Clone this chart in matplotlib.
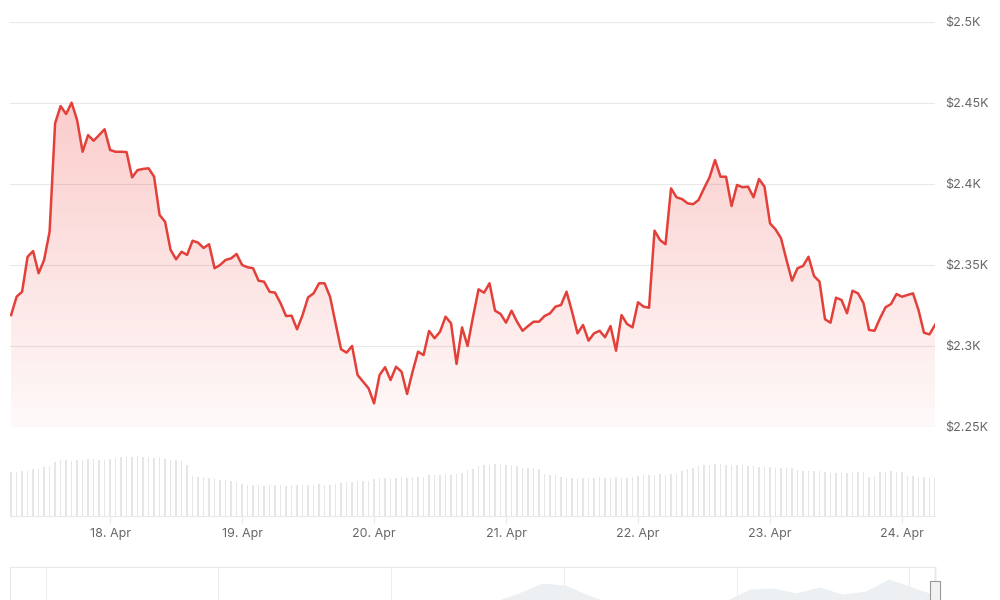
import matplotlib
matplotlib.use("Agg")
import matplotlib.pyplot as plt
import matplotlib.dates as mdates
from matplotlib.ticker import FuncFormatter
import numpy as np
import pandas as pd

plt.rcParams['font.family'] = ['Inter', 'DejaVu Sans']

# hourly prices (USD), 17 Apr 06:00 -> 24 Apr 06:00
price = [
    2319.1, 2330.4, 2333.5, 2355.1, 2358.6, 2344.9, 2353.1, 2370.6, 2437.5, 2448.1, 2443.2, 2450.2,
    2439.5, 2419.9, 2430.2, 2426.7, 2430.2, 2433.8, 2421.0, 2419.9, 2419.9, 2419.7, 2404.1, 2408.6,
    2409.3, 2409.7, 2404.5, 2380.9, 2376.7, 2359.3, 2353.5, 2358.2, 2356.2, 2365.0, 2363.8, 2360.5,
    2362.8, 2348.0, 2350.0, 2353.1, 2354.1, 2356.8, 2350.0, 2348.6, 2348.0, 2340.3, 2339.7, 2333.5,
    2332.9, 2326.4, 2318.5, 2318.7, 2310.3, 2319.1, 2330.0, 2332.5, 2338.7, 2338.7, 2330.4, 2314.0,
    2298.0, 2295.9, 2300.0, 2282.1, 2278.0, 2273.9, 2264.6, 2282.1, 2286.9, 2279.0, 2287.2, 2284.1,
    2270.4, 2284.1, 2296.5, 2294.4, 2309.3, 2304.8, 2308.8, 2318.1, 2314.0, 2288.9, 2311.5, 2300.0,
    2318.1, 2335.0, 2332.9, 2338.7, 2321.8, 2319.8, 2314.4, 2321.8, 2315.0, 2309.4, 2312.3, 2315.0,
    2315.0, 2318.5, 2320.2, 2324.3, 2325.3, 2333.5, 2321.2, 2307.8, 2313.0, 2303.3, 2307.8, 2309.4,
    2305.4, 2312.3, 2297.1, 2319.1, 2313.6, 2311.5, 2327.0, 2324.3, 2323.6, 2371.2, 2365.4, 2362.8,
    2397.3, 2391.8, 2390.7, 2388.1, 2387.5, 2390.1, 2397.3, 2404.1, 2414.8, 2404.5, 2404.5, 2386.4,
    2399.4, 2398.0, 2398.4, 2391.8, 2403.1, 2398.3, 2375.7, 2372.0, 2366.5, 2353.1, 2340.3, 2348.0,
    2349.4, 2355.1, 2343.2, 2339.7, 2316.5, 2314.4, 2329.8, 2328.4, 2320.2, 2334.1, 2332.5, 2326.4,
    2309.9, 2309.4, 2317.1, 2323.9, 2325.9, 2332.1, 2330.4, 2331.5, 2332.5, 2322.2, 2308.2, 2307.2, 2313.0,
]

# hourly volume (relative units)
volume = [
    44, 44, 45, 45, 47, 47, 49, 50, 54, 56, 56, 55,
    56, 56, 57, 57, 56, 56, 57, 58, 59, 59, 59, 60,
    59, 59, 58, 59, 57, 56, 56, 55, 51, 40, 39, 39,
    38, 38, 36, 36, 35, 34, 32, 31, 31, 31, 30, 31,
    31, 31, 30, 31, 31, 31, 31, 31, 32, 31, 31, 32,
    33, 34, 34, 35, 35, 35, 37, 38, 38, 38, 38, 39,
    38, 39, 39, 39, 41, 41, 41, 42, 41, 42, 43, 46,
    47, 50, 51, 51, 52, 52, 51, 51, 50, 48, 48, 48,
    47, 42, 41, 41, 39, 38, 38, 38, 38, 38, 38, 39,
    38, 38, 39, 38, 38, 39, 40, 41, 41, 41, 42, 41,
    42, 42, 45, 47, 48, 50, 51, 51, 52, 52, 51, 51,
    51, 51, 50, 50, 49, 49, 49, 48, 48, 49, 48, 46,
    45, 45, 45, 45, 44, 43, 43, 43, 43, 44, 44, 44,
    39, 40, 44, 44, 45, 44, 44, 40, 40, 39, 39, 38, 38,
]

# navigator (long history overview, relative)
nav_values = [5, 6, 5, 6, 7, 6, 5, 6, 7, 6, 5, 6, 5, 6, 7, 8, 7, 8, 9, 10, 11,
              14, 22, 32, 30, 20, 12, 10, 9, 11, 13, 15, 26, 27, 22, 28, 21, 24, 36, 28, 20]

times = pd.date_range('2024-04-17 06:00', periods=len(price), freq='h')
y_ticks = [2250, 2300, 2350, 2400, 2450, 2500]

red = '#e3403a'
grid_c = '#e9e9e9'
text_c = '#666666'

fig = plt.figure(figsize=(10, 6), dpi=100)
x0 = mdates.date2num(times[0]) - 0.2 / 24
x1 = mdates.date2num(times[-1])

# main price panel
ax = fig.add_axes([0.01, 1 - 427 / 600, 0.925, 405 / 600])
ax.set_xlim(x0, x1)
ax.set_ylim(2250, 2500)
for s in ax.spines.values():
    s.set_visible(False)
ax.set_yticks(y_ticks)
ax.yaxis.tick_right()
ax.yaxis.set_major_formatter(FuncFormatter(lambda v, p: '${:g}K'.format(v / 1000)))
ax.tick_params(axis='y', length=0, pad=7, labelsize=9, labelcolor=text_c)
ax.set_xticks([])
ax.grid(axis='y', color=grid_c, linewidth=0.8)
ax.set_axisbelow(True)

poly = ax.fill_between(times, price, 2250, color='none', linewidth=0)
grad = np.zeros((256, 1, 4))
grad[..., 0], grad[..., 1], grad[..., 2] = 0.93, 0.25, 0.23
grad[:, 0, 3] = np.linspace(0.32, 0.03, 256)
img = ax.imshow(grad, extent=[x0, x1, 2250, 2500], aspect='auto', origin='upper', zorder=1)
img.set_clip_path(poly.get_paths()[0], transform=ax.transData)
ax.plot(times, price, color=red, linewidth=1.8, zorder=3, solid_joinstyle='round')

# volume panel
axv = fig.add_axes([0.01, 1 - 516 / 600, 0.925, 61 / 600])
axv.set_xlim(x0, x1)
axv.set_ylim(0, 61)
axv.bar(times, volume, width=0.22 / 24, color='#e6e6e6', linewidth=0)
for k in ['top', 'left', 'right']:
    axv.spines[k].set_visible(False)
axv.spines['bottom'].set_color(grid_c)
axv.set_yticks([])
axv.xaxis.set_major_locator(mdates.DayLocator())
axv.xaxis.set_major_formatter(mdates.DateFormatter('%d. %b'))
axv.tick_params(axis='x', length=5, color=grid_c, pad=4, labelsize=9, labelcolor=text_c)

# navigator panel (partly cut off at the bottom)
axn = fig.add_axes([0.01, 1 - 615 / 600, 0.925, 48 / 600])
nav_x = np.arange(len(nav_values))
axn.set_xlim(0, len(nav_values) - 1)
axn.set_ylim(0, 48)
axn.fill_between(nav_x, nav_values, 0, color='#edf0f2', linewidth=0)
axn.set_xticks([1.56, 8.99, 16.48, 23.96, 31.44, 38.88])
axn.set_yticks([])
axn.tick_params(length=0, labelbottom=False)
axn.grid(axis='x', color='#eeeeee', linewidth=0.8)
for s in axn.spines.values():
    s.set_color(grid_c)
axn.plot([len(nav_values) - 1] * 2, [0, 48], color='#cccccc', linewidth=1, clip_on=False)
axn.add_patch(plt.Rectangle((len(nav_values) - 1.2, 14), 0.4, 20, facecolor='#f2f2f2',
                            edgecolor='#999999', linewidth=0.8, clip_on=False, zorder=5))

fig.savefig('out.png', dpi=100)
